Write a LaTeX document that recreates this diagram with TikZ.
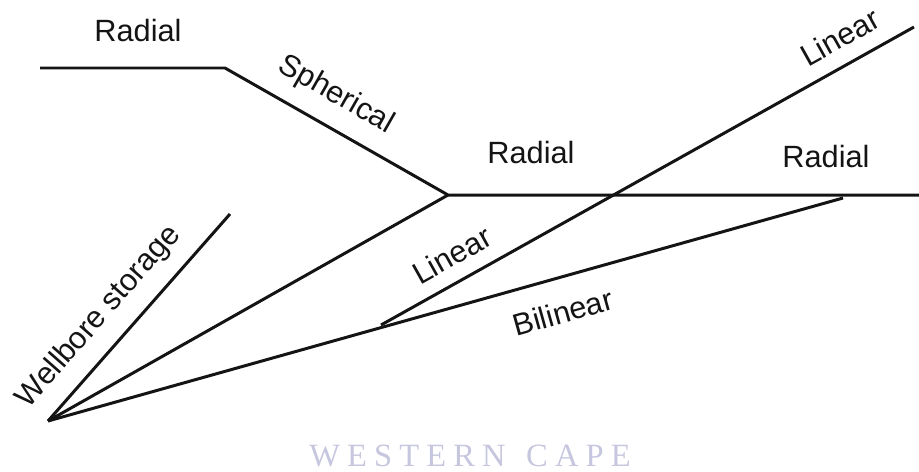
\documentclass[tikz,border=0pt]{standalone}
\usepackage{fontspec}
\setmainfont{Liberation Sans}
\newfontfamily\capefont[LetterSpace=22]{Liberation Serif}
\usetikzlibrary{positioning}
\usepackage{xcolor}
\definecolor{flowblack}{HTML}{141414}
\definecolor{capegray}{HTML}{C6C6DE}

\begin{document}
\begin{tikzpicture}[x=0.02cm, y=-0.02cm, font=\fontsize{17.5}{21}\selectfont,
    regime/.style={draw=flowblack, line width=1.7pt},
    tag/.style={text=flowblack, inner sep=0pt}]
    \useasboundingbox (0,0) rectangle (919,471);
    % end points of the flow regimes
    \coordinate (well) at (48,421);
    \coordinate (wbend) at (230,214);
    \coordinate (topstart) at (40,68);
    \coordinate (topbend) at (225,68);
    \coordinate (apex) at (448,195);
    \coordinate (radend) at (919,195);
    \coordinate (biend) at (843,198);
    \coordinate (linstart) at (381,325);
    \coordinate (linend) at (914,27);
    \draw[regime] (topstart) -- (topbend) -- (apex) -- (radend);
    \draw[regime] (well) -- (wbend);
    \draw[regime] (well) -- (apex);
    \draw[regime] (well) -- (biend);
    \draw[regime] (linstart) -- (linend);
    \node[tag] (radtop) at (138,31) {Radial};
    \node[tag, rotate=-29.7] (spher) at (336,95) {Spherical};
    \node[tag] (radmid) at (531,153) {Radial};
    \node[tag] (radright) at (826,157) {Radial};
    \node[tag, rotate=29.2] (lintop) at (840,37) {Linear};
    \node[tag, rotate=29.2] (linlow) at (452,255) {Linear};
    \node[tag, rotate=15.7] (bilin) at (563,312) {Bilinear};
    \node[tag, rotate=48.7] (wbs) at (99,317) {Wellbore storage};
    \node[text=capegray, inner sep=0pt, font=\capefont\fontsize{18.5}{22}\selectfont] (cape) at (470,456) {WESTERN \hspace{3pt}CAPE};
\end{tikzpicture}
\end{document}
